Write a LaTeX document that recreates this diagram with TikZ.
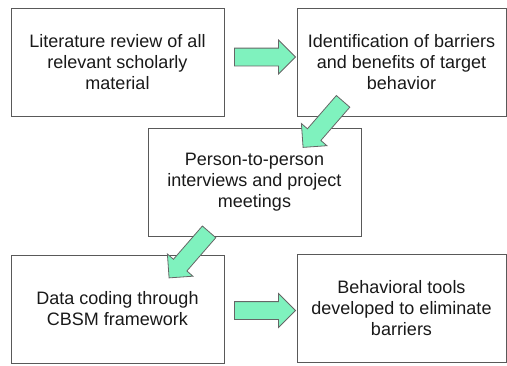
\documentclass[tikz,border=0pt]{standalone}
\usepackage{fontspec}
\setmainfont{Liberation Sans}
\usetikzlibrary{shapes.arrows,calc}
\definecolor{mint}{RGB}{127,242,190}

\begin{document}
\begin{tikzpicture}
        [x=1pt, y=-1pt,
        box/.style={draw=black!65, line width=0.8pt, minimum width=213pt, minimum height=108pt,
                align=center, text=black!90, inner sep=0pt, font=\fontsize{18}{21}\selectfont},
        rightBox/.style={box, minimum width=209pt},
        blockArrow/.style={single arrow, draw=black!60, line width=0.8pt, fill=mint,
                minimum height=61pt, inner xsep=0pt, inner ysep=8.5pt, single arrow head extend=8pt}]
%%
%% Page frame
%%
\useasboundingbox (0,0) rectangle (507,365);
%%
%% The five steps
%%
\node[box] (lit) at (117.5,62) {Literature review of all\\relevant scholarly\\material};
\node[rightBox] (ident) at (401.5,62) {Identification of barriers\\and benefits of target\\behavior};
\node[box] (person) at (254.5,182) {Person-to-person\\interviews and project\\meetings};
\node[box] (data) at (117.5,309) {Data coding through\\CBSM framework};
\node[rightBox] (tools) at (401.5,308) {Behavioral tools\\developed to eliminate\\barriers};
%%
%% Block arrows between the steps
%%
\node[blockArrow] (a1) at ($(lit.east)!0.5!(ident.west)+(0,-5)$) {};
\node[blockArrow, rotate=229] (a2) at ($(ident.south west)!0.5!(person.north east)+(-3,-1)$) {};
\node[blockArrow, rotate=229] (a3) at ($(person.south west)!0.5!(data.north east)+(6,6)$) {};
\node[blockArrow] (a4) at ($(data.east)!0.5!(tools.west)+(0,2)$) {};

\end{tikzpicture}
\end{document}
